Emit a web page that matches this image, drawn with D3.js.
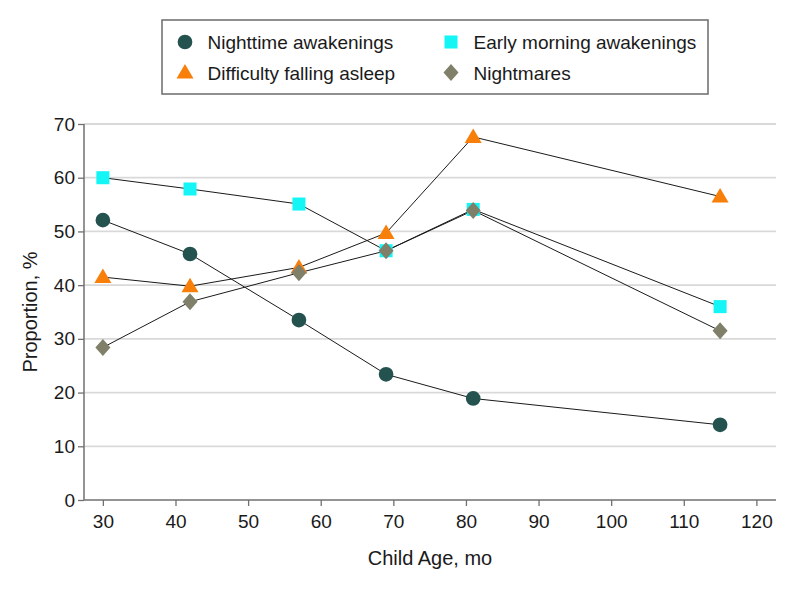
<!DOCTYPE html>
<html>
<head>
<meta charset="utf-8">
<script src="https://cdn.jsdelivr.net/npm/d3@7"></script>
<style>
  html, body { margin: 0; padding: 0; background: #fff; }
  svg { display: block; font-family: "Liberation Sans", Arial, sans-serif; }
</style>
</head>
<body>
<svg id="chart" width="794" height="591"></svg>
<script>
// ---- data ----
const ages = [30, 42, 57, 69, 81, 115];
const nighttimeAwakenings = [52.1, 45.8, 33.5, 23.4, 18.9, 14.0];
const earlyMorningAwakenings = [60.0, 57.9, 55.1, 46.4, 54.1, 36.0];
const difficultyFallingAsleep = [41.5, 39.8, 43.3, 49.7, 67.6, 56.5];
const nightmares = [28.4, 36.9, 42.3, 46.4, 53.9, 31.5];
const xTicks = [30, 40, 50, 60, 70, 80, 90, 100, 110, 120];
const yTicks = [0, 10, 20, 30, 40, 50, 60, 70];
const seriesNames = ["Nighttime awakenings", "Early morning awakenings", "Difficulty falling asleep", "Nightmares"];

const series = [
  { name: seriesNames[0], values: nighttimeAwakenings, shape: "circle", color: "#23524f" },
  { name: seriesNames[1], values: earlyMorningAwakenings, shape: "square", color: "#14f5f5" },
  { name: seriesNames[2], values: difficultyFallingAsleep, shape: "triangle", color: "#f77f0a" },
  { name: seriesNames[3], values: nightmares, shape: "diamond", color: "#7f7f6a" }
];

const svg = d3.select("#chart");
const x = d3.scaleLinear().domain([27.4, 122.7]).range([84, 776]);
const y = d3.scaleLinear().domain([0, 70]).range([500, 124]);

// gridlines
svg.append("g").selectAll("line").data(yTicks.filter(d => d > 0)).join("line")
  .attr("x1", 84).attr("x2", 776)
  .attr("y1", d => y(d)).attr("y2", d => y(d))
  .attr("stroke", "#d9d9d9").attr("stroke-width", 1.8);

// axes
const xAxis = svg.append("g").attr("transform", "translate(0,500)")
  .call(d3.axisBottom(x).tickValues(xTicks).tickSize(6).tickPadding(9));
const yAxis = svg.append("g").attr("transform", "translate(84,0)")
  .call(d3.axisLeft(y).tickValues(yTicks).tickSize(6).tickPadding(3));
[xAxis, yAxis].forEach(a => {
  a.select(".domain").attr("stroke", "#707070").attr("stroke-width", 1.5);
  a.selectAll(".tick line").attr("stroke", "#707070").attr("stroke-width", 1.3);
  a.selectAll(".tick text").attr("font-size", 19).attr("fill", "#1a1a1a")
    .attr("font-family", "Liberation Sans, Arial, sans-serif");
});
xAxis.select(".domain").attr("d", "M84,0H776");
yAxis.select(".domain").attr("d", "M0,124V500");

// axis titles
svg.append("text").attr("x", 430).attr("y", 565).attr("text-anchor", "middle")
  .attr("font-size", 20).attr("fill", "#1a1a1a").text("Child Age, mo");
svg.append("text").attr("transform", "translate(37,312) rotate(-90)")
  .attr("text-anchor", "middle").attr("font-size", 20).attr("fill", "#1a1a1a")
  .text("Proportion, %");

// marker symbol generator
function symbolPath(shape) {
  if (shape === "circle") return d3.symbol(d3.symbolCircle, 170)();
  if (shape === "square") return d3.symbol(d3.symbolSquare, 170)();
  if (shape === "triangle") return "M0,-8.5L8.5,6L-8.5,6Z";
  return "M0,-8.5L7.5,0L0,8.5L-7.5,0Z";
}

const line = d3.line().x(d => x(d[0])).y(d => y(d[1]));

const order = [0, 1, 2, 3];
order.forEach(i => {
  const s = series[i];
  const pts = ages.map((a, j) => [a, s.values[j]]);
  svg.append("path").datum(pts).attr("d", line)
    .attr("fill", "none").attr("stroke", "#1a1a1a").attr("stroke-width", 1);
});
order.forEach(i => {
  const s = series[i];
  const pts = ages.map((a, j) => [a, s.values[j]]);
  svg.append("g").selectAll("path").data(pts).join("path")
    .attr("transform", d => `translate(${x(d[0])},${y(d[1])})`)
    .attr("d", symbolPath(s.shape))
    .attr("fill", s.color);
});

// legend
const lg = svg.append("g");
lg.append("rect").attr("x", 162).attr("y", 20).attr("width", 546).attr("height", 74)
  .attr("fill", "#fff").attr("stroke", "#6b6b6b").attr("stroke-width", 1.5);
const legendPos = [
  { i: 0, mx: 185, ty: 42 },
  { i: 1, mx: 451, ty: 42 },
  { i: 2, mx: 185, ty: 72.5 },
  { i: 3, mx: 451, ty: 72.5 }
];
legendPos.forEach(p => {
  const s = series[p.i];
  lg.append("path").attr("transform", `translate(${p.mx},${p.ty})`)
    .attr("d", symbolPath(s.shape)).attr("fill", s.color);
  lg.append("text").attr("x", p.mx + 22.5).attr("y", p.ty + 7)
    .attr("font-size", 19).attr("fill", "#1a1a1a").text(s.name);
});
</script>
</body>
</html>
